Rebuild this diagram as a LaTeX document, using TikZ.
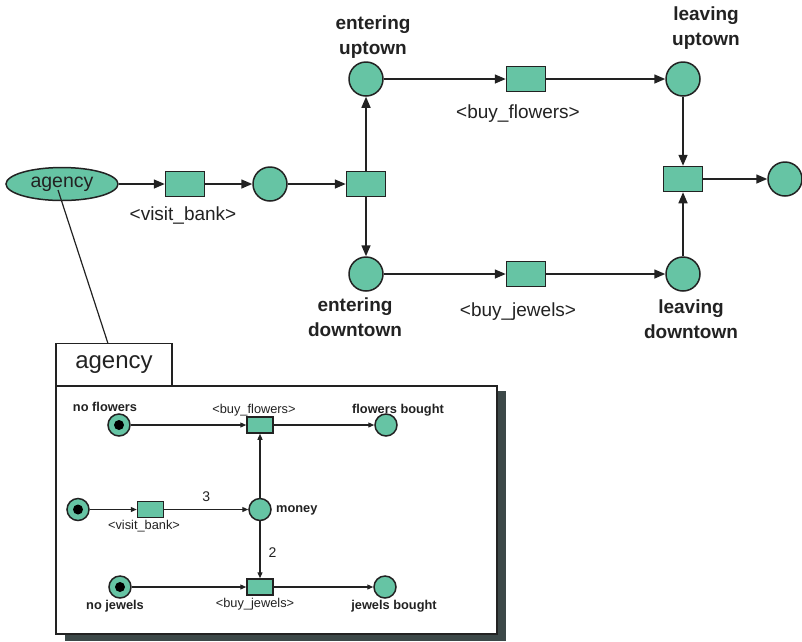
\documentclass[tikz,border=0pt]{standalone}
\usepackage{fontspec}
\setmainfont{Liberation Sans}
\usetikzlibrary{shapes.geometric,arrows.meta}
\definecolor{petri}{HTML}{66C4A4}
\definecolor{linec}{HTML}{222222}
\definecolor{shadowc}{HTML}{3C4848}
\begin{document}
\begin{tikzpicture}[x=1pt,y=-1pt,
  place/.style={circle,draw=linec,fill=petri,line width=1.5pt,minimum size=34pt,inner sep=0pt},
  trans/.style={rectangle,draw=linec,fill=petri,line width=1.5pt,minimum width=39pt,minimum height=25pt,inner sep=0pt},
  arc/.style={draw=linec,line width=1.5pt,-{Triangle[length=11pt,width=9pt]}},
  lbl/.style={font=\fontsize{19}{24}\selectfont,text=linec,inner sep=0pt},
  blbl/.style={font=\fontsize{19}{25}\bfseries\selectfont,text=linec,align=center,inner sep=0pt},
  splace/.style={circle,draw=linec,fill=petri,line width=1.5pt,minimum size=22pt,inner sep=0pt},
  strans/.style={rectangle,draw=linec,fill=petri,line width=1.5pt,minimum width=26pt,minimum height=16pt,inner sep=0pt},
  sarc/.style={draw=linec,line width=1.2pt,-{Triangle[length=6pt,width=5pt]}},
  token/.style={circle,fill=black,minimum size=10pt,inner sep=0pt},
  slbl/.style={font=\fontsize{12.8}{15}\selectfont,text=linec,inner sep=0pt},
  sblbl/.style={font=\fontsize{12.8}{15}\bfseries\selectfont,text=linec,inner sep=0pt},
  num/.style={font=\fontsize{14}{16}\selectfont,text=linec,inner sep=0pt}]
\useasboundingbox (0,0) rectangle (802,641);

% ---------- top-level net ----------
\node[ellipse,draw=linec,fill=petri,line width=1.5pt,minimum width=112pt,minimum height=33pt,inner sep=0pt,
      font=\fontsize{19.5}{24}\selectfont,text=linec] (agency) at (62,184) {agency};
\node[trans] (visit) at (185,184) {};
\node[lbl] (visitlbl) at (183,215) {<visit\_bank>};
\node[place] (mid) at (270,184) {};
\node[trans] (split) at (366,184) {};
\node[place] (entup) at (366,79) {};
\node[blbl] (entuplbl) at (373,37) {entering\\uptown};
\node[place] (entdown) at (366,274) {};
\node[blbl] (entdownlbl) at (355,317) {entering\\downtown};
\node[trans] (buyfl) at (526,79) {};
\node[lbl] (buyfllbl) at (518,114) {<buy\_flowers>};
\node[trans] (buyjw) at (526,274) {};
\node[lbl] (buyjwlbl) at (518,312) {<buy\_jewels>};
\node[place] (levup) at (683,79) {};
\node[blbl] (levuplbl) at (706,28) {leaving\\uptown};
\node[place] (levdown) at (683,274) {};
\node[blbl] (levdownlbl) at (691,319) {leaving\\downtown};
\node[trans] (join) at (683,179) {};
\node[place] (final) at (785,179) {};

\draw[arc] (agency) -- (visit);
\draw[arc] (visit) -- (mid);
\draw[arc] (mid) -- (split);
\draw[arc] (split) -- (entup);
\draw[arc] (split) -- (entdown);
\draw[arc] (entup) -- (buyfl);
\draw[arc] (buyfl) -- (levup);
\draw[arc] (entdown) -- (buyjw);
\draw[arc] (buyjw) -- (levdown);
\draw[arc] (levup) -- (join);
\draw[arc] (levdown) -- (join);
\draw[arc] (join) -- (final);

% ---------- refinement of the agency ----------
\fill[shadowc] (65,391) rectangle (506,641);
\node[draw=linec,fill=white,line width=1.5pt,minimum width=441pt,minimum height=248pt,inner sep=0pt] (box) at (276.5,510) {};
\node[draw=linec,fill=white,line width=1.5pt,minimum width=116pt,minimum height=42pt,inner sep=0pt,
      font=\fontsize{24}{28}\selectfont,text=linec] (tab) at (114,364.5) {agency};
\coordinate (agfoot) at (58,190);
\coordinate (tabtop) at (108,343.5);
\draw[draw=linec,line width=1.2pt] (agfoot) -- (tabtop);

\node[splace] (nofl) at (119,425) {};
\node[token] (noflt) at (nofl) {};
\node[sblbl] (nofllbl) at (105,407) {no flowers};
\node[strans] (sbuyfl) at (260,425) {};
\node[slbl] (sbuyfllbl) at (254,410.5) {<buy\_flowers>};
\node[splace] (flb) at (386,425) {};
\node[sblbl] (flblbl) at (398,410) {flowers bought};

\node[splace] (start) at (78,509.5) {};
\node[token] (startt) at (start) {};
\node[strans] (svisit) at (150.5,509.5) {};
\node[slbl] (svisitlbl) at (144,526) {<visit\_bank>};
\node[splace] (money) at (260,509.5) {};
\node[sblbl,anchor=west] (moneylbl) at (276,510) {money};

\node[splace] (nojw) at (120,587) {};
\node[token] (nojwt) at (nojw) {};
\node[sblbl] (nojwlbl) at (115,606) {no jewels};
\node[strans] (sbuyjw) at (260,587) {};
\node[slbl] (sbuyjwlbl) at (255,604) {<buy\_jewels>};
\node[splace] (jwb) at (385,587) {};
\node[sblbl] (jwblbl) at (394,606) {jewels bought};

\draw[sarc] (nofl) -- (sbuyfl);
\draw[sarc] (sbuyfl) -- (flb);
\draw[sarc] (money) -- (sbuyfl);
\draw[sarc] (start) -- (svisit);
\draw[sarc] (svisit) -- node[num,above=7pt,pos=0.5] (three) {3} (money);
\draw[sarc] (money) -- node[num,right=8pt,pos=0.55] (two) {2} (sbuyjw);
\draw[sarc] (nojw) -- (sbuyjw);
\draw[sarc] (sbuyjw) -- (jwb);
\end{tikzpicture}
\end{document}
